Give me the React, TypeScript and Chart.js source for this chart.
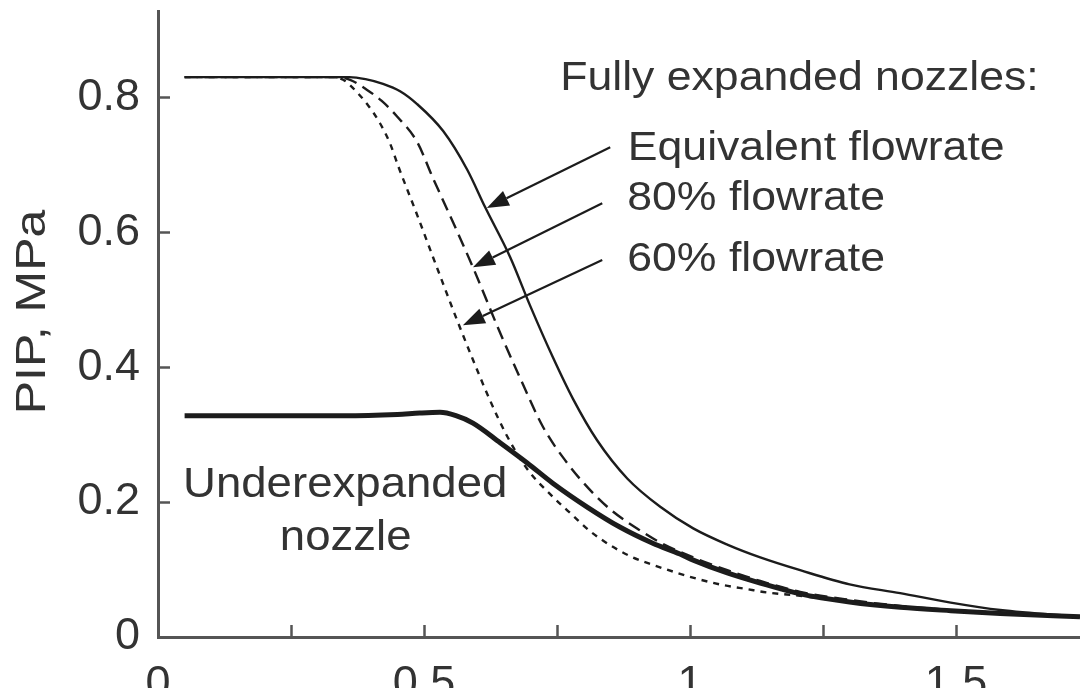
import React, { useEffect, useRef } from "react";
import { Chart, registerables } from "chart.js";

Chart.register(...registerables);

// ---- data ----
const eqX = [0.05, 0.2, 0.33, 0.36, 0.39, 0.423, 0.455, 0.487, 0.536, 0.581, 0.615, 0.662, 0.699, 0.742, 0.78, 0.825, 0.882, 0.944, 1.006, 1.07, 1.132, 1.207, 1.3, 1.395, 1.49, 1.583, 1.733];
const eqY = [0.83, 0.83, 0.83, 0.83, 0.827, 0.82, 0.809, 0.79, 0.75, 0.693, 0.637, 0.563, 0.492, 0.415, 0.353, 0.292, 0.235, 0.193, 0.161, 0.137, 0.118, 0.099, 0.078, 0.065, 0.051, 0.04, 0.03];

const p80X = [0.05, 0.2, 0.33, 0.361, 0.393, 0.42, 0.449, 0.487, 0.517, 0.555, 0.592, 0.643, 0.68, 0.724, 0.769, 0.818, 0.855, 0.906, 0.944, 1.006, 1.07, 1.132, 1.207, 1.3, 1.395, 1.49, 1.583, 1.733];
const p80Y = [0.83, 0.83, 0.83, 0.826, 0.811, 0.795, 0.772, 0.734, 0.68, 0.614, 0.548, 0.451, 0.385, 0.311, 0.258, 0.213, 0.186, 0.158, 0.14, 0.118, 0.099, 0.083, 0.067, 0.055, 0.046, 0.04, 0.036, 0.03];

const p60X = [0.05, 0.2, 0.33, 0.348, 0.361, 0.393, 0.417, 0.436, 0.452, 0.485, 0.517, 0.562, 0.592, 0.624, 0.656, 0.694, 0.742, 0.78, 0.812, 0.85, 0.887, 0.93, 0.976, 1.019, 1.062, 1.107, 1.145, 1.207, 1.3, 1.395, 1.49, 1.583, 1.733];
const p60Y = [0.83, 0.83, 0.83, 0.826, 0.818, 0.79, 0.762, 0.732, 0.697, 0.63, 0.563, 0.47, 0.411, 0.351, 0.298, 0.249, 0.208, 0.18, 0.157, 0.136, 0.12, 0.107, 0.095, 0.085, 0.077, 0.071, 0.066, 0.061, 0.052, 0.045, 0.039, 0.034, 0.029];

const thX = [0.05, 0.2, 0.35, 0.45, 0.492, 0.53, 0.56, 0.592, 0.643, 0.694, 0.742, 0.806, 0.868, 0.93, 0.981, 1.006, 1.07, 1.132, 1.207, 1.3, 1.395, 1.49, 1.583, 1.733];
const thY = [0.328, 0.328, 0.328, 0.33, 0.332, 0.333, 0.328, 0.317, 0.288, 0.258, 0.228, 0.193, 0.163, 0.139, 0.123, 0.114, 0.095, 0.08, 0.064, 0.052, 0.044, 0.039, 0.035, 0.03];

const xTickValues = [0, 0.25, 0.5, 0.75, 1, 1.25, 1.5];
const xTickLabels = ["0", "", "0.5", "", "1", "", "1.5"];
const yTickValues = [0, 0.2, 0.4, 0.6, 0.8];
const yTickLabels = ["0", "0.2", "0.4", "0.6", "0.8"];

const yTitle = "PIP, MPa";

// annotation texts (anchored in data coordinates)
const noteTexts = ["Fully expanded nozzles:", "Equivalent flowrate", "80% flowrate", "60% flowrate", "Underexpanded", "nozzle"];
const noteX = [0.756, 0.883, 0.882, 0.882, 0.047, 0.229];
const noteY = [0.811, 0.707, 0.633, 0.542, 0.2075, 0.129];

// arrows (data coordinates)
const arrowFromX = [0.85, 0.835, 0.835];
const arrowFromY = [0.726, 0.643, 0.559];
const arrowToX = [0.618, 0.592, 0.573];
const arrowToY = [0.636, 0.548, 0.462];

const FONT = "'Liberation Sans', Arial, Helvetica, sans-serif";
const INK = "#1c1c1c";
const TEXT = "#333333";
const AXIS = "#555555";

const pts = (xs: number[], ys: number[]) => xs.map((x, i) => ({ x, y: ys[i] }));

const decorPlugin = {
  id: "decor",
  afterDraw(chart: any) {
    const ctx = chart.ctx as CanvasRenderingContext2D;
    const xs = chart.scales.x;
    const ys = chart.scales.y;
    const area = chart.chartArea;

    // inward ticks
    ctx.save();
    ctx.strokeStyle = AXIS;
    ctx.lineWidth = 2.5;
    ctx.beginPath();
    xTickValues.forEach((v) => {
      if (v === 0) return;
      const px = Math.round(xs.getPixelForValue(v)) + 0.5;
      ctx.moveTo(px, area.bottom);
      ctx.lineTo(px, area.bottom - 12);
    });
    yTickValues.forEach((v) => {
      if (v === 0) return;
      const py = Math.round(ys.getPixelForValue(v)) + 0.5;
      ctx.moveTo(area.left, py);
      ctx.lineTo(area.left + 12, py);
    });
    ctx.stroke();
    ctx.restore();

    // arrows
    ctx.save();
    ctx.strokeStyle = INK;
    ctx.fillStyle = INK;
    ctx.lineWidth = 2.2;
    for (let i = 0; i < arrowFromX.length; i++) {
      const x0 = xs.getPixelForValue(arrowFromX[i]);
      const y0 = ys.getPixelForValue(arrowFromY[i]);
      const x1 = xs.getPixelForValue(arrowToX[i]);
      const y1 = ys.getPixelForValue(arrowToY[i]);
      const ang = Math.atan2(y1 - y0, x1 - x0);
      const hl = 22;
      const hw = 8;
      const bx = x1 - hl * Math.cos(ang);
      const by = y1 - hl * Math.sin(ang);
      ctx.beginPath();
      ctx.moveTo(x0, y0);
      ctx.lineTo(bx, by);
      ctx.stroke();
      ctx.beginPath();
      ctx.moveTo(x1, y1);
      ctx.lineTo(bx + hw * Math.sin(ang), by - hw * Math.cos(ang));
      ctx.lineTo(bx - hw * Math.sin(ang), by + hw * Math.cos(ang));
      ctx.closePath();
      ctx.fill();
    }
    ctx.restore();

    // annotation text
    ctx.save();
    ctx.fillStyle = TEXT;
    ctx.textAlign = "left";
    ctx.textBaseline = "alphabetic";
    noteTexts.forEach((t, i) => {
      const big = i >= 4;
      ctx.save();
      ctx.font = (big ? "43px " : "40px ") + FONT;
      ctx.translate(xs.getPixelForValue(noteX[i]), ys.getPixelForValue(noteY[i]));
      ctx.scale(big ? 1.06 : 1.115, 1);
      ctx.fillText(t, 0, 0);
      ctx.restore();
    });

    // y axis title
    ctx.save();
    ctx.font = "42px " + FONT;
    ctx.textAlign = "center";
    ctx.translate(45, (area.top + area.bottom) / 2 - 12);
    ctx.rotate(-Math.PI / 2);
    ctx.scale(1.19, 1);
    ctx.fillText(yTitle, 0, 0);
    ctx.restore();
    ctx.restore();
  },
};

export default function App() {
  const ref = useRef<HTMLCanvasElement | null>(null);

  useEffect(() => {
    if (!ref.current) return;
    const common = { pointRadius: 0, borderColor: INK, fill: false, cubicInterpolationMode: "monotone" as const };
    const chart = new Chart(ref.current, {
      type: "line",
      data: {
        datasets: [
          { label: "Equivalent flowrate", data: pts(eqX, eqY), borderWidth: 2.4, ...common },
          { label: "80% flowrate", data: pts(p80X, p80Y), borderWidth: 2.4, borderDash: [13, 7], ...common },
          { label: "60% flowrate", data: pts(p60X, p60Y), borderWidth: 2.4, borderDash: [6, 6], ...common },
          { label: "Underexpanded nozzle", data: pts(thX, thY), borderWidth: 5, ...common },
        ],
      },
      options: {
        animation: false,
        responsive: false,
        devicePixelRatio: 1,
        layout: { padding: { top: 11, left: 0, right: 0, bottom: 0 } },
        plugins: { legend: { display: false }, tooltip: { enabled: false } },
        scales: {
          x: {
            type: "linear",
            min: 0,
            max: 1.733,
            grid: { display: false, drawTicks: false },
            border: { display: true, color: AXIS, width: 3 },
            afterBuildTicks: (s: any) => {
              s.ticks = xTickValues.map((v) => ({ value: v }));
            },
            afterFit: (s: any) => {
              s.height = 51;
              s.paddingLeft = 0;
              s.paddingRight = 0;
              s.paddingTop = 0;
              s.paddingBottom = 0;
            },
            ticks: {
              autoSkip: false,
              maxRotation: 0,
              includeBounds: false,
              padding: 21,
              color: TEXT,
              font: { family: FONT, size: 45 },
              callback: (_v: any, i: number) => xTickLabels[i],
            },
          },
          y: {
            type: "linear",
            min: 0,
            max: 0.928,
            grid: { display: false, drawTicks: false },
            border: { display: true, color: AXIS, width: 3 },
            afterBuildTicks: (s: any) => {
              s.ticks = yTickValues.map((v) => ({ value: v }));
            },
            afterFit: (s: any) => {
              s.width = 158;
              s.paddingLeft = 0;
              s.paddingRight = 0;
              s.paddingTop = 0;
              s.paddingBottom = 0;
            },
            ticks: {
              autoSkip: false,
              includeBounds: false,
              padding: 18,
              color: TEXT,
              font: { family: FONT, size: 45 },
              callback: (_v: any, i: number) => yTickLabels[i],
            },
          },
        },
      },
      plugins: [decorPlugin],
    });
    return () => chart.destroy();
  }, []);

  return (
    <div style={{ position: "fixed", left: 0, top: 0, width: 1080, height: 688, background: "#fff" }}>
      <canvas ref={ref} width={1080} height={688} style={{ width: 1080, height: 688 }} />
    </div>
  );
}
